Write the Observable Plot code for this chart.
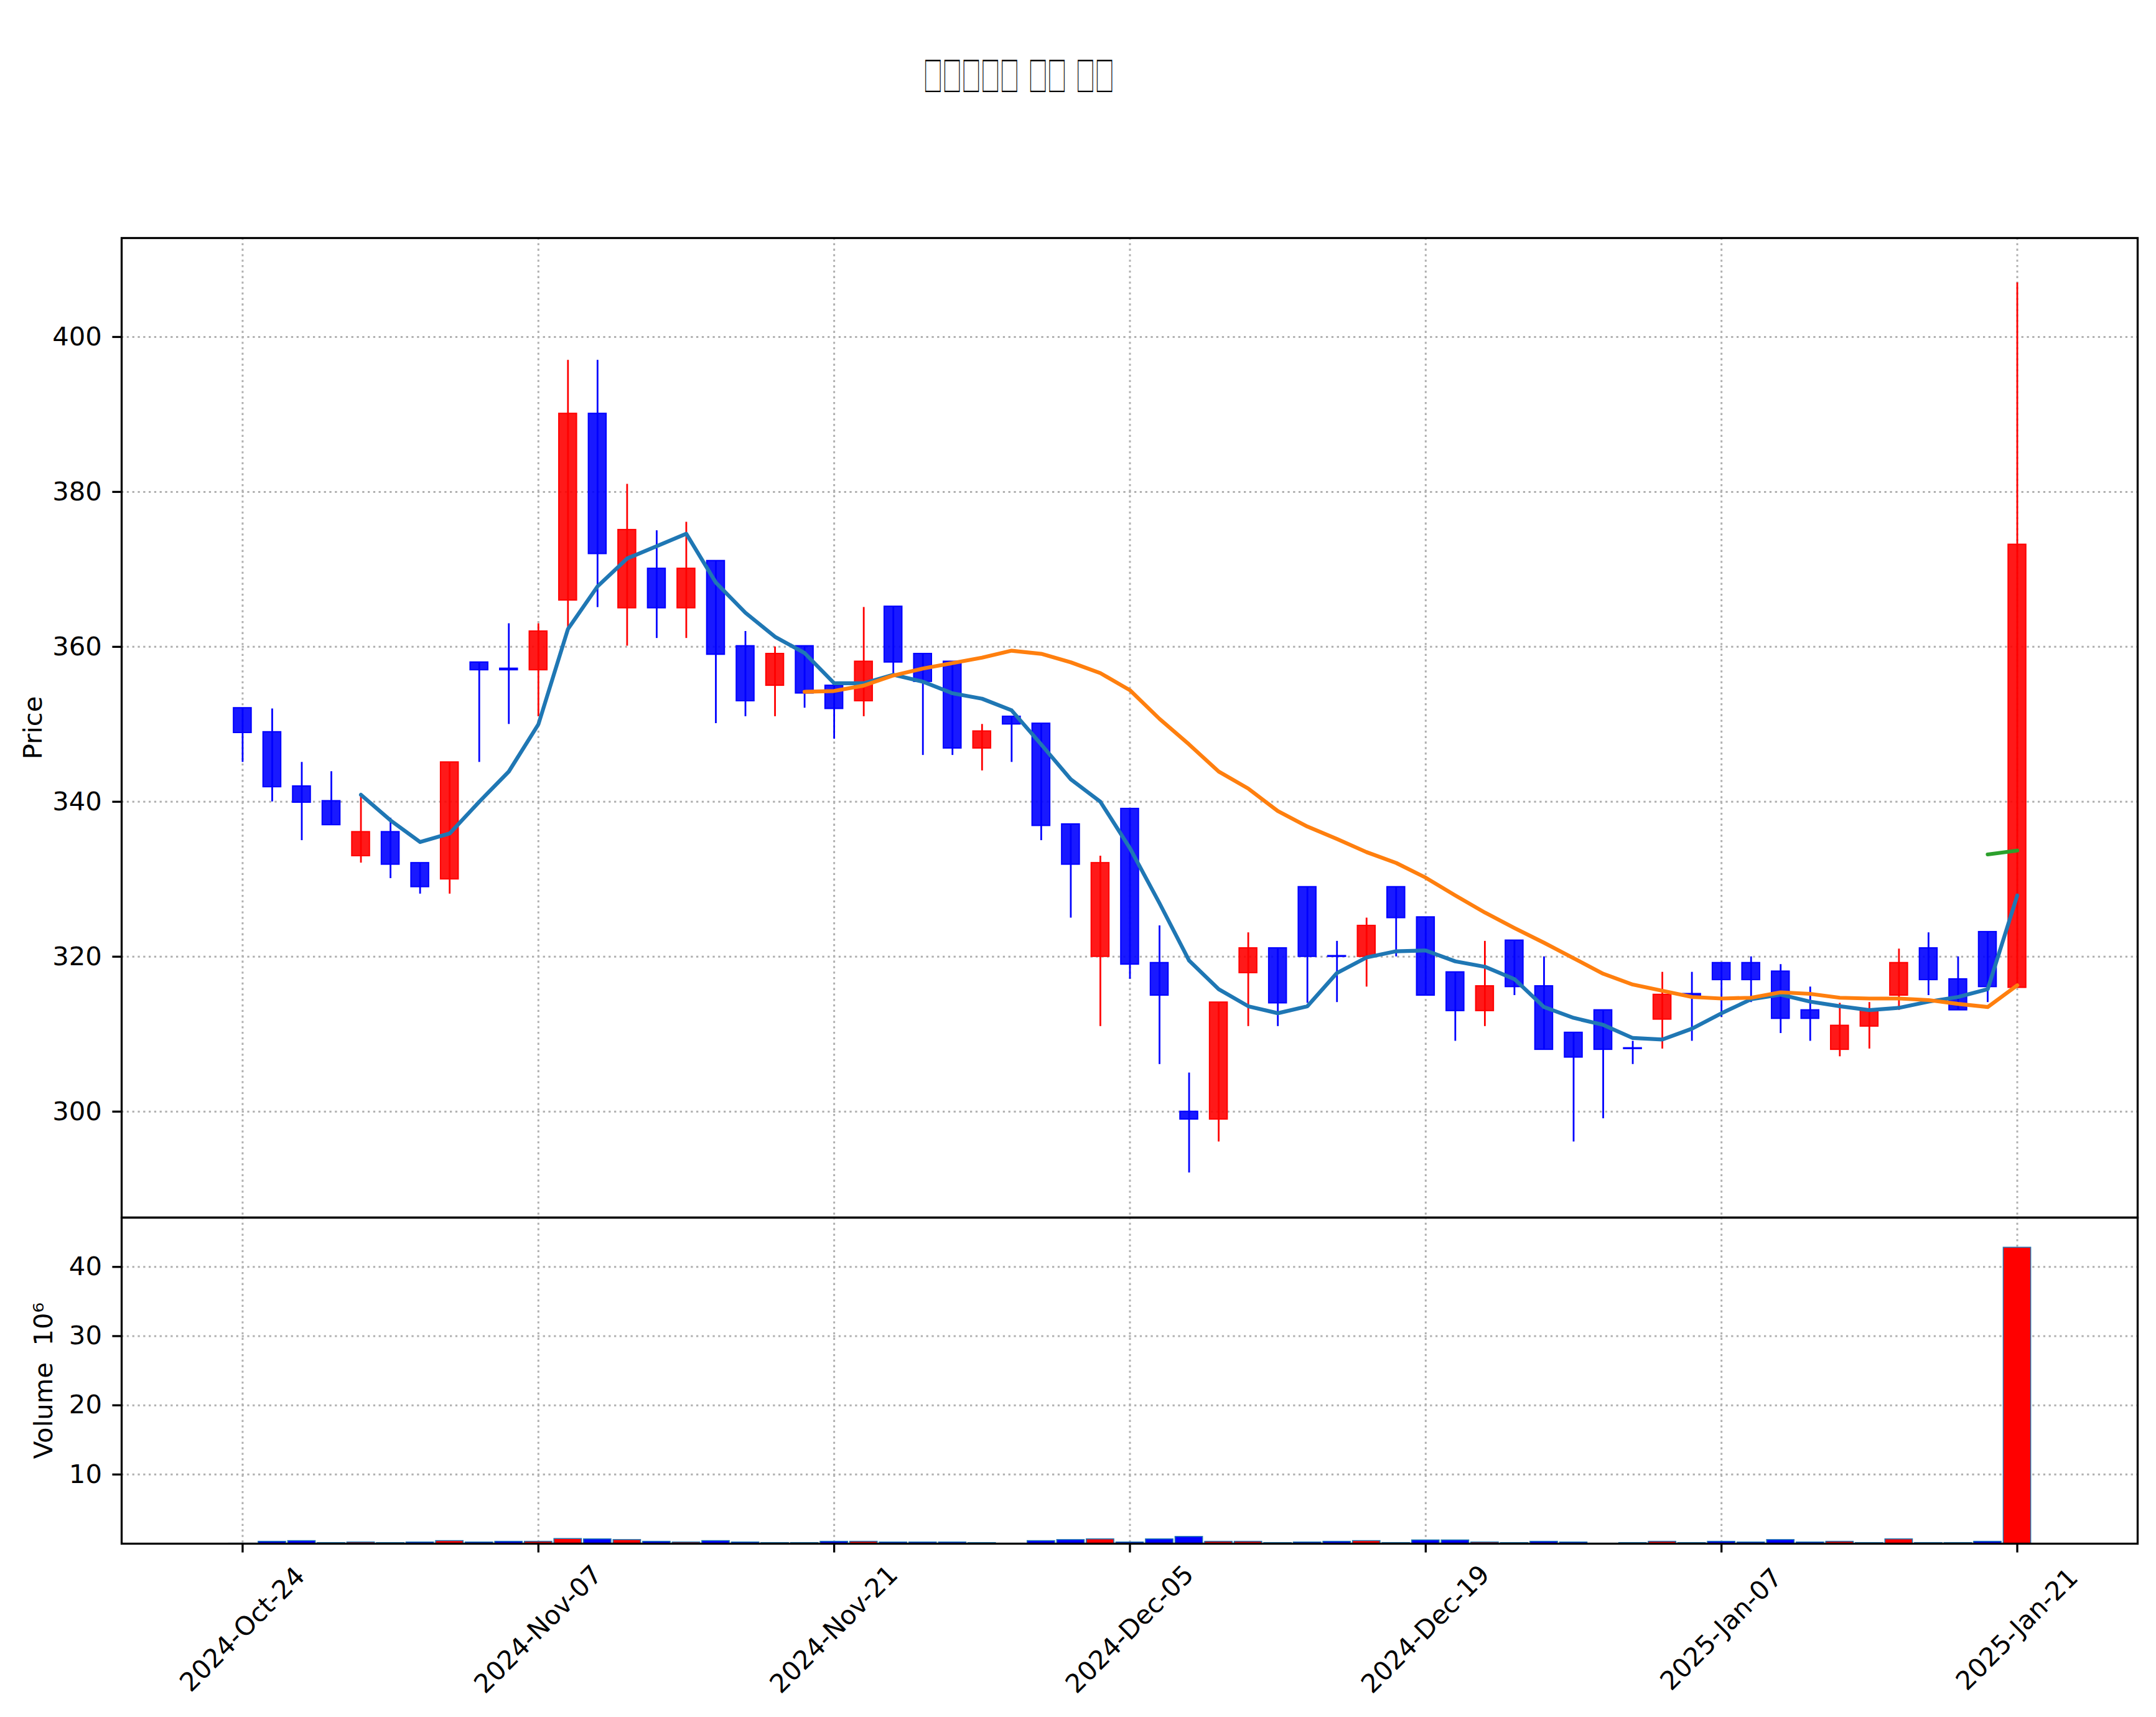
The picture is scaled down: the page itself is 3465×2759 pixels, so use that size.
<!DOCTYPE html>
<html><head><meta charset="utf-8">
<script src="https://cdn.jsdelivr.net/npm/d3@7"></script>
<script src="https://cdn.jsdelivr.net/npm/@observablehq/plot@0.6"></script>
<style>
html,body{margin:0;padding:0;background:#fff;}
#page{position:relative;width:3465px;height:2759px;background:#fff;overflow:hidden;font-family:"DejaVu Sans";}
#title{position:absolute;left:1484px;top:86px;font-family:"Noto Sans CJK KR";font-size:64px;line-height:1;white-space:pre;word-spacing:17px;color:#000;z-index:3;transform:scale(0.48,1);transform-origin:0 0;}
#price,#volume{position:absolute;left:0;}
#price{top:0;}
#volume{top:1952px;}
</style></head>
<body><div id="page"><div id="title">□□□□□ □□ □□</div><div id="price"></div><div id="volume"></div></div>
<script>
// ---- data ----
const dates = ["2024-10-24","2024-10-25","2024-10-28","2024-10-29","2024-10-30","2024-10-31","2024-11-01","2024-11-04","2024-11-05","2024-11-06",
"2024-11-07","2024-11-08","2024-11-11","2024-11-12","2024-11-13","2024-11-14","2024-11-15","2024-11-18","2024-11-19","2024-11-20",
"2024-11-21","2024-11-22","2024-11-25","2024-11-26","2024-11-27","2024-11-28","2024-11-29","2024-12-02","2024-12-03","2024-12-04",
"2024-12-05","2024-12-06","2024-12-09","2024-12-10","2024-12-11","2024-12-12","2024-12-13","2024-12-16","2024-12-17","2024-12-18",
"2024-12-19","2024-12-20","2024-12-23","2024-12-24","2024-12-26","2024-12-27","2024-12-30","2025-01-02","2025-01-03","2025-01-06",
"2025-01-07","2025-01-08","2025-01-09","2025-01-10","2025-01-13","2025-01-14","2025-01-15","2025-01-16","2025-01-17","2025-01-20","2025-01-21"];
const open  = [352.1,349.0,342.0,340.1,333.0,336.1,332.1,330.0,358.0,357.2, 357.0,366.0,390.1,365.0,370.1,365.0,371.1,360.1,355.0,360.1,
355.0,353.0,365.2,359.1,358.1,346.9,351.0,350.1,337.1,320.0, 339.1,319.2,300.0,299.0,317.9,321.1,329.0,320.1,320.0,329.0,
325.1,318.0,313.0,322.1,316.2,310.2,313.1,308.2,311.9,315.2, 319.2,319.2,318.1,313.1,308.0,311.0,315.0,321.1,317.1,323.2,316.0];
const high  = [352.1,352.0,345.1,343.9,341.0,337.9,332.1,345.1,358.0,363.0, 363.0,397.0,397.0,381.0,375.0,376.1,371.1,362.0,360.0,360.1,
355.0,365.1,365.2,359.1,358.1,350.0,351.0,350.1,337.1,333.0, 339.1,324.0,305.0,314.1,323.1,321.1,329.0,322.0,325.0,329.0,
325.1,318.0,322.0,322.1,320.0,310.2,313.1,309.1,318.0,318.0, 319.2,320.0,319.0,316.1,314.0,314.1,321.0,323.1,320.0,323.2,407.0];
const low   = [345.1,340.0,335.0,337.0,332.1,330.1,328.1,328.1,345.1,350.0, 351.0,362.5,365.1,360.1,361.1,361.1,350.1,351.0,351.0,352.1,
348.1,351.0,356.5,346.0,346.0,344.0,345.1,335.0,325.0,311.0, 317.1,306.1,292.1,296.1,311.0,311.0,314.0,314.1,316.1,320.0,
315.0,309.1,311.0,315.0,308.0,296.1,299.1,306.1,308.1,309.1, 312.2,314.1,310.1,309.1,307.1,308.1,313.1,315.0,313.1,314.1,316.0];
const close = [348.9,341.9,339.9,337.0,336.1,331.9,329.0,345.1,357.0,357.0, 362.0,390.1,372.0,375.1,365.0,370.1,359.0,353.0,359.1,354.0,
352.0,358.1,358.0,355.5,346.9,349.1,350.0,336.9,331.9,332.1, 319.0,315.0,299.0,314.1,321.1,314.0,320.0,320.0,324.0,325.0,
315.0,313.0,316.2,316.1,308.0,307.0,308.0,308.1,315.1,315.0, 317.0,317.0,312.0,312.0,311.1,313.1,319.2,317.0,313.1,316.1,373.2];
// volume in millions of shares
const volume = [0.03,0.3,0.4,0.12,0.2,0.12,0.2,0.4,0.2,0.3, 0.3,0.7,0.65,0.55,0.3,0.2,0.4,0.2,0.12,0.12,
0.3,0.3,0.2,0.2,0.2,0.12,0.03,0.4,0.55,0.65, 0.2,0.65,1.0,0.3,0.3,0.12,0.2,0.3,0.4,0.12,
0.5,0.5,0.2,0.12,0.3,0.2,0.03,0.12,0.3,0.12, 0.3,0.2,0.55,0.2,0.3,0.12,0.65,0.12,0.12,0.3,42.8];
// moving averages as drawn (first index where each starts)
const ma5Start = 4;
const ma5 = [340.9,337.6,334.8,335.9,340.0,343.9,350.0,362.3,367.8,371.4,373.0,374.6,368.3,364.4,361.3,359.2,
355.3,355.3,356.4,355.5,354.0,353.3,351.8,347.4,342.9,340.0,334.0,326.9,319.5,315.8,313.6,312.7,313.6,317.9,
319.9,320.7,320.8,319.4,318.7,317.1,313.5,312.1,311.2,309.5,309.3,310.7,312.7,314.5,315.1,314.2,313.6,313.1,
313.4,314.2,314.8,315.8,327.9];
const ma20Start = 19;
const ma20 = [354.2,354.3,355.0,356.3,357.2,357.9,358.6,359.5,359.1,358.0,356.6,354.4,350.7,347.4,343.9,341.7,
338.8,336.8,335.2,333.5,332.1,330.2,327.9,325.7,323.7,321.8,319.8,317.8,316.4,315.6,314.8,314.6,314.7,315.4,
315.2,314.7,314.6,314.6,314.4,313.9,313.5,316.3];
const ma60Start = 59;
const ma60 = [333.2,333.7];
const xTickIdx = [0,10,20,30,40,50,60];
const priceTicks = [300,320,340,360,380,400];
const volTicks = [10,20,30,40];

// ---- build ----
const parse = d3.utcParse("%Y-%m-%d");
const fmt = d3.utcFormat("%Y-%b-%d");
const candles = dates.map((d,i)=>({i, date: parse(d), open: open[i], high: high[i], low: low[i], close: close[i], volume: volume[i], up: close[i] > open[i]}));
const maSeries = (start, vals) => vals.map((v,k)=>({i: start+k, v}));
const UP = "#ff0000", DOWN = "#0000ff";
const W = 3465;
const xDomain = [-4.09, 64.07];
const FS = 41.7;
const gridStyle = {stroke:"#b0b0b0", strokeOpacity:1, strokeWidth:3, strokeDasharray:"3.3,5.5"};
const svgStyle = {background:"transparent", fontFamily:"DejaVu Sans", fontSize: FS+"px", color:"black", overflow:"visible"};

const price = Plot.plot({
  width: W, height: 1960,
  marginTop: 382, marginBottom: 4, marginLeft: 195, marginRight: 30,
  x: {domain: xDomain, axis: null},
  y: {domain: [286.32, 412.77], axis: null},
  color: {type: "identity"},
  style: svgStyle,
  marks: [
    Plot.gridX({ticks: xTickIdx, ...gridStyle}),
    Plot.gridY({ticks: priceTicks, ...gridStyle}),
    Plot.ruleX(candles, {x: "i", y1: "low", y2: "high", stroke: d => d.up ? UP : DOWN, strokeWidth: 2.8}),
    Plot.rect(candles, {x1: d => d.i - 0.3, x2: d => d.i + 0.3, y1: "open", y2: "close",
      fill: d => d.up ? UP : DOWN, fillOpacity: 0.9, stroke: d => d.up ? UP : DOWN, strokeWidth: 2}),
    Plot.line(maSeries(ma5Start, ma5), {x: "i", y: "v", stroke: "#1f77b4", strokeWidth: 6.2}),
    Plot.line(maSeries(ma20Start, ma20), {x: "i", y: "v", stroke: "#ff7f0e", strokeWidth: 6.2}),
    Plot.line(maSeries(ma60Start, ma60), {x: "i", y: "v", stroke: "#2ca02c", strokeWidth: 6.2}),
    Plot.frame({stroke: "black", strokeWidth: 3.3}),
    Plot.axisY({ticks: priceTicks, tickSize: 14.6, tickPadding: 17, strokeWidth: 3.3, fontSize: FS, tickFormat: d => String(d), label: null}),
    Plot.text(["Price"], {frameAnchor: "left", dx: -142, rotate: -90, fontSize: FS, textAnchor: "middle", lineAnchor: "middle"})
  ]
});
document.getElementById("price").append(price);

const vol = Plot.plot({
  width: W, height: 807,
  marginTop: 4, marginBottom: 279, marginLeft: 195, marginRight: 30,
  x: {domain: xDomain, axis: null},
  y: {domain: [0, 47.13], axis: null},
  color: {type: "identity"},
  style: svgStyle,
  marks: [
    Plot.gridX({ticks: xTickIdx, ...gridStyle}),
    Plot.gridY({ticks: volTicks, ...gridStyle}),
    Plot.rect(candles, {x1: d => d.i - 0.465, x2: d => d.i + 0.465, y1: () => 0, y2: "volume",
      fill: d => d.up ? UP : DOWN, stroke: "#1f77b4", strokeWidth: 1.5}),
    Plot.frame({stroke: "black", strokeWidth: 3.3}),
    Plot.axisY({ticks: volTicks, tickSize: 14.6, tickPadding: 17, strokeWidth: 3.3, fontSize: FS, tickFormat: d => String(d), label: null}),
    Plot.axisX({ticks: xTickIdx, tickSize: 14.6, strokeWidth: 3.3, tickFormat: () => "", label: null}),
    Plot.text(xTickIdx, {x: d => d, text: d => fmt(candles[d].date), frameAnchor: "bottom", dy: 138, rotate: -45,
      fontSize: FS, textAnchor: "middle", lineAnchor: "middle"}),
    Plot.text(["Volume  10⁶"], {frameAnchor: "left", dx: -125, rotate: -90, fontSize: FS, textAnchor: "middle", lineAnchor: "middle"})
  ]
});
document.getElementById("volume").append(vol);
</script>
</body></html>
